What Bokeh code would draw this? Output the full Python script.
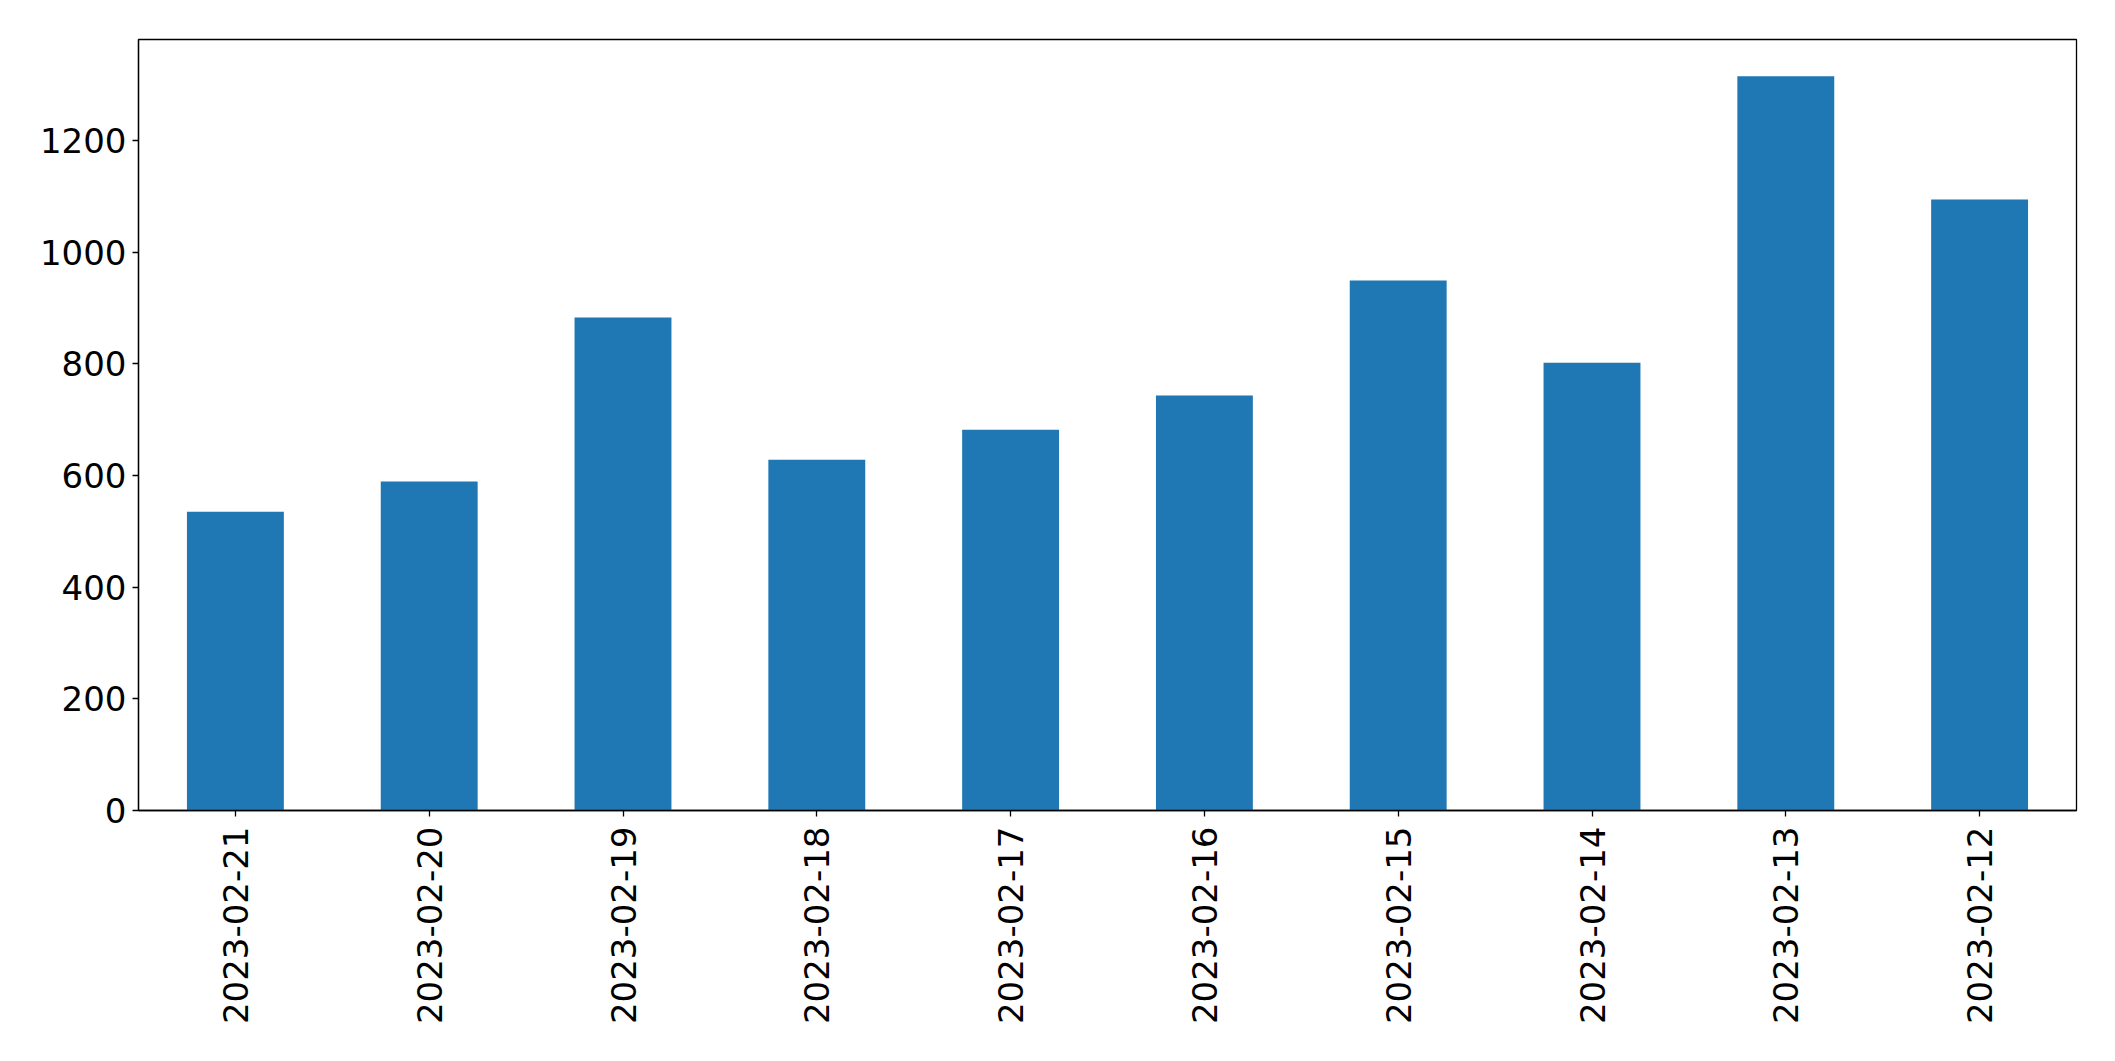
import math
from bokeh.plotting import figure
from bokeh.models import FactorRange, Range1d, FixedTicker
from bokeh.embed import file_html
from bokeh.resources import INLINE

dates = ["2023-02-21", "2023-02-20", "2023-02-19", "2023-02-18", "2023-02-17",
         "2023-02-16", "2023-02-15", "2023-02-14", "2023-02-13", "2023-02-12"]
counts = [535, 589, 883, 628, 682, 743, 949, 802, 1315, 1094]
y_ticks = [0, 200, 400, 600, 800, 1000, 1200]

p = figure(width=2108, height=1048, output_backend="svg", toolbar_location=None,
           x_range=FactorRange(*dates, range_padding=0),
           y_range=Range1d(0, max(counts) * 1.05),
           min_border_left=138, min_border_right=32, min_border_top=39, min_border_bottom=238)

p.vbar(x=dates, top=counts, width=0.5, color="#1f77b4", line_color=None)

p.xgrid.visible = False
p.ygrid.visible = False
p.outline_line_color = "black"
p.outline_line_width = 1.3
p.outline_line_alpha = 1

for ax in (p.xaxis[0], p.yaxis[0]):
    ax.axis_line_color = "black"
    ax.axis_line_width = 1.3
    ax.major_tick_line_color = "black"
    ax.major_tick_line_width = 1.3
    ax.major_tick_in = 0
    ax.major_tick_out = 6
    ax.minor_tick_line_color = None
    ax.major_label_text_font = "DejaVu Sans"
    ax.major_label_text_font_size = "34px"
    ax.major_label_text_color = "black"

p.yaxis[0].ticker = FixedTicker(ticks=y_ticks)
p.yaxis[0].major_label_standoff = 6
p.xaxis[0].major_label_orientation = math.pi / 2
p.xaxis[0].major_label_standoff = 10

open("out.html", "w").write(file_html(p, INLINE))
